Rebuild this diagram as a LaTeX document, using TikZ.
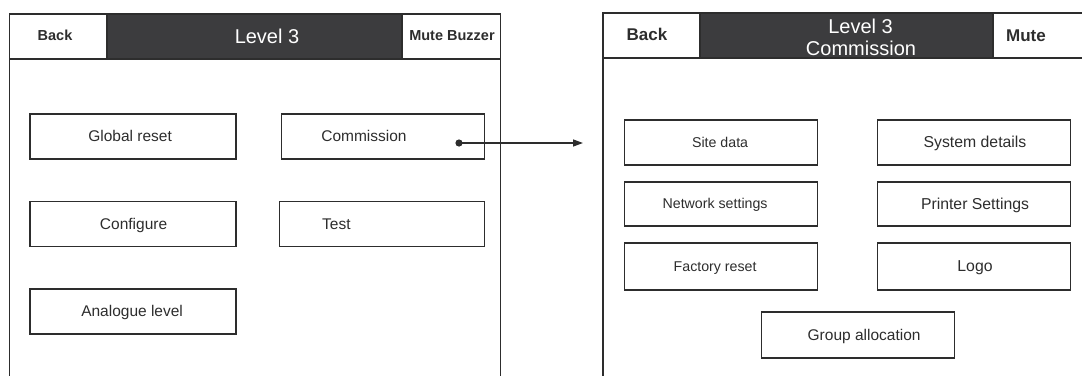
\documentclass[tikz,border=0pt]{standalone}
\usepackage{fontspec}
\setmainfont{Liberation Sans}
\usetikzlibrary{arrows.meta}
\definecolor{ink}{RGB}{45,45,45}
\definecolor{headfill}{RGB}{60,60,62}
\tikzset{
  panel/.style={draw=ink, line width=1.6pt},
  btn/.style={draw=ink, line width=1.6pt, rectangle, inner sep=0pt,
    anchor=north west, minimum width=206pt, minimum height=45pt},
  btnB/.style={btn, minimum width=193pt},
  lbl/.style={text=ink, inner sep=0pt, text height=11.1pt, text depth=0pt,
    font=\fontsize{15.5}{18}\selectfont},
  lblS/.style={lbl, text height=10.2pt, font=\fontsize{14.2}{17}\selectfont},
  lblM/.style={lbl, text height=11.3pt, font=\fontsize{15.8}{18}\selectfont},
  headtxt/.style={anchor=base, inner sep=0pt, text=ink,
    font=\bfseries\fontsize{14.5}{17}\selectfont},
  headtxtR/.style={headtxt, font=\bfseries\fontsize{17}{20}\selectfont},
  titletxt/.style={anchor=base, inner sep=0pt, text=white,
    font=\fontsize{20}{22}\selectfont},
}
\begin{document}
\begin{tikzpicture}[x=1pt, y=-1pt]
\useasboundingbox (0,0) rectangle (1082,375);

% ---- left screen: Level 3 ----
\fill[headfill] (107,14) rectangle (402,59);
\draw[panel] (9.3,377) -- (9.3,14) -- (500.3,14) -- (500.3,377);
\draw[panel] (9.3,59) -- (500.3,59);
\draw[panel] (107,14) -- (107,59) (402,14) -- (402,59);
\node[headtxt] (backL) at (55,40) {Back};
\node[titletxt] (titleL) at (267,43) {Level 3};
\node[headtxt] (muteL) at (452,40) {Mute Buzzer};

\node[btn, label={[lbl, xshift=-3pt]center:Global reset}] (greset) at (29.3,113) {};
\node[btn, minimum width=203.3pt, label={[lbl, xshift=-19pt]center:Commission}] (comm) at (280.5,113) {};
\node[btn, label={[lbl, xshift=0.5pt]center:Configure}] (config) at (29.3,200.5) {};
\node[btn, minimum width=205pt, label={[lbl, xshift=-45.7pt]center:Test}] (test) at (278.8,200.5) {};
\node[btn, label={[lbl, xshift=-1pt]center:Analogue level}] (analog) at (29.3,288) {};

% ---- right screen: Level 3 Commission ----
\fill[headfill] (700,13) rectangle (993,58);
\draw[panel] (603,377) -- (603,13) -- (1084,13);
\draw[panel] (603,58) -- (1084,58);
\draw[panel] (700,13) -- (700,58) (993,13) -- (993,58);
\node[headtxtR] (backR) at (647,40) {Back};
\node[titletxt] (titleR1) at (860.5,33) {Level 3};
\node[titletxt] (titleR2) at (861,55) {Commission};
\node[headtxtR] (muteR) at (1026,41) {Mute};

\node[btnB, label={[lblS, xshift=-1pt]center:Site data}] (site) at (623.8,119) {};
\node[btnB, label={[lblM, xshift=1pt]center:System details}] (sysdet) at (876.7,119) {};
\node[btnB, minimum height=44pt, label={[lblS, xshift=-6pt]center:Network settings}] (net) at (623.8,181) {};
\node[btnB, minimum height=44pt, label={[lblM, xshift=1pt]center:Printer Settings}] (printer) at (876.7,181) {};
\node[btnB, minimum height=47pt, label={[lblS, xshift=-6pt]center:Factory reset}] (factory) at (623.8,242) {};
\node[btnB, minimum height=47pt, label={[lblM, xshift=1pt]center:Logo}] (logo) at (876.7,242) {};
\node[btnB, minimum height=46pt, label={[lbl, xshift=6pt]center:Group allocation}] (group) at (760.8,311) {};

% ---- link from Commission to its screen ----
\coordinate (cdot) at (459,143);
\coordinate (arrowend) at (583,143);
\fill[ink] (cdot) circle [radius=3.6pt];
\draw[ink, line width=1.4pt, -{Triangle[length=10pt, width=7pt]}] (cdot) -- (arrowend);
\end{tikzpicture}
\end{document}
